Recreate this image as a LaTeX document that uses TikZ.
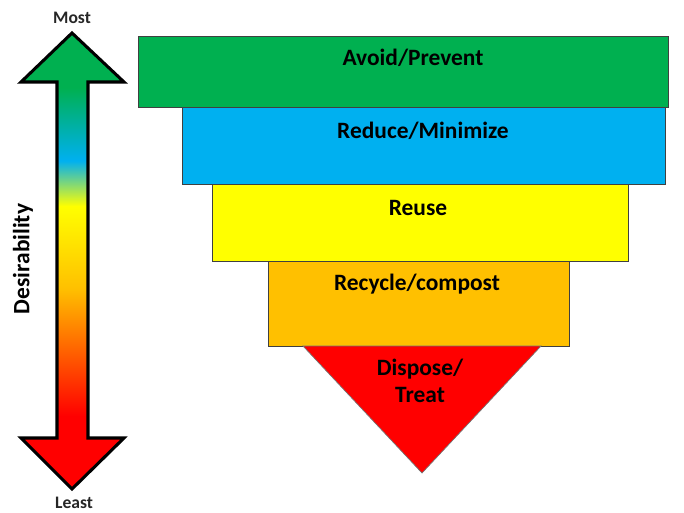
\documentclass[tikz,border=0pt]{standalone}
\usepackage{fontspec}
\setmainfont{Carlito}
\definecolor{avoidgreen}{RGB}{0,176,80}
\definecolor{reduceblue}{RGB}{0,176,240}
\definecolor{reuseyellow}{RGB}{255,255,0}
\definecolor{recycleorange}{RGB}{255,192,0}
\definecolor{disposered}{RGB}{255,0,0}
\pgfdeclareverticalshading{desirability}{100bp}{color(0bp)=(disposered); color(33bp)=(disposered); color(47bp)=(recycleorange); color(56bp)=(reuseyellow); color(61bp)=(reduceblue); color(69bp)=(avoidgreen); color(100bp)=(avoidgreen)}
\tikzset{
    tier/.style = {draw = black!75, line width = 0.6pt},
    label/.style = {font = \bfseries\fontsize{20}{20}\selectfont, text = black, inner sep = 0pt, align = center},
    endlabel/.style = {font = \bfseries\fontsize{15}{15}\selectfont, text = black!85, inner sep = 0pt}
}
\begin{document}
\begin{tikzpicture}[x = 0.03cm, y = -0.03cm]
    \useasboundingbox (0,0) rectangle (684,513);
    \draw[line width = 2.6pt, line join = miter, shading = desirability]
        (72,33) -- (124,82) -- (88,82) -- (88,438) -- (124,438) -- (72,489)
        -- (21,438) -- (57,438) -- (57,82) -- (21,82) -- cycle;
    \begin{scope}[style = tier]
        \draw[fill = avoidgreen] (138,36) rectangle (668,107);
        \draw[fill = reduceblue] (182,107) rectangle (665,184);
        \draw[fill = reuseyellow] (212,184) rectangle (628,261);
        \draw[fill = recycleorange] (268,261) rectangle (569,346);
        \draw[fill = disposered, draw = black!55] (303,346) -- (541,346) -- (422,473) -- cycle;
    \end{scope}
    \begin{scope}[every node/.append style = {label}]
        \node (avoid) at (413,58) {Avoid/Prevent};
        \node (reduce) at (423,131) {Reduce/Minimize};
        \node (reuse) at (418,208) {Reuse};
        \node (recycle) at (417,284) {Recycle/compost};
        \node[font = \bfseries\fontsize{20}{23}\selectfont] (dispose) at (420,381) {Dispose/\\Treat};
        \node[rotate = 90] (desire) at (23,259) {Desirability};
    \end{scope}
    \node[endlabel] (most) at (72,18) {Most};
    \node[endlabel] (least) at (74,503) {Least};
\end{tikzpicture}
\end{document}
